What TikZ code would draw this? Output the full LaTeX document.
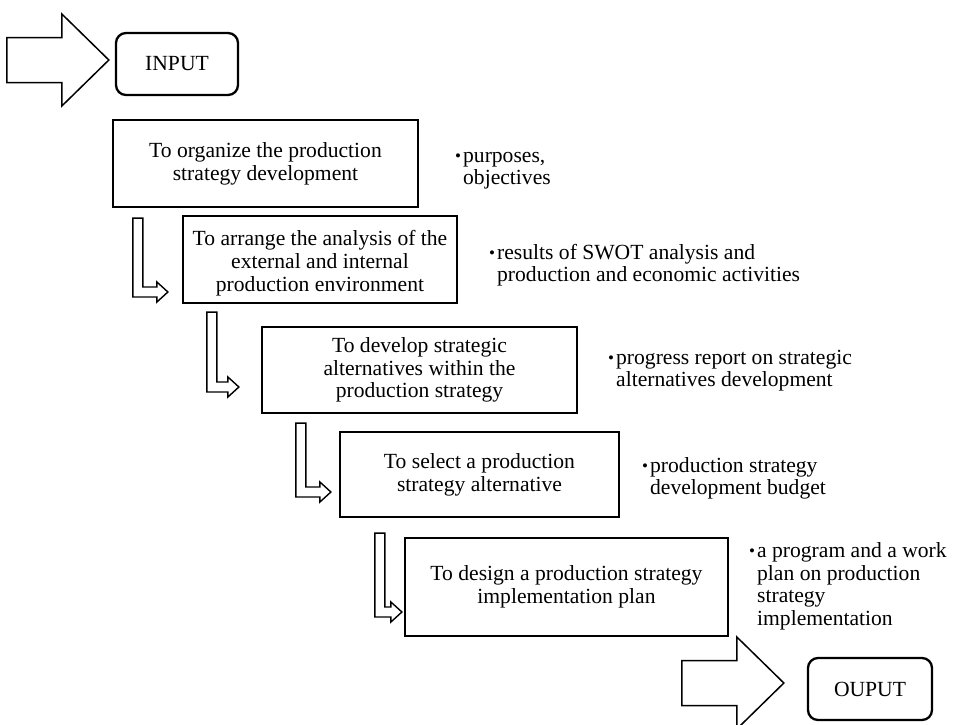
\documentclass[tikz,border=0pt]{standalone}
\usepackage{fontspec}
\setmainfont{Liberation Serif}
\usetikzlibrary{calc}
\newcommand\boxfont{\fontsize{21.6}{22.8}\selectfont}
\newcommand\dotb{\raisebox{0.05ex}{\fontsize{17}{17}\selectfont\textbullet}}
\newcommand\drawLarrow[2]{%
  \draw[hollow] (#1) -- ++(10,0) |- ($(#2)+(-11,-5)$) -- ++(0,-5) -- (#2)
    -- ++(-11,10) -- ++(0,-5) -| (#1) -- cycle;}
\newcommand\drawBigArrow[1]{%
  \draw[hollowbig] ($(#1)+(-102,-22.5)$) -- ++(55,0) -- ++(0,-23.5) -- (#1)
    -- ++(-47,46) -- ++(0,-23.5) -- ++(-55,0) -- cycle;}
\begin{document}
\begin{tikzpicture}[x=1pt,y=-1pt,
  stepbox/.style={draw, line width=2.2pt, align=center, inner sep=0pt, font=\boxfont},
  endbox/.style={draw, line width=2.3pt, rounded corners=10pt, inner sep=0pt, font=\boxfont},
  note/.style={anchor=west, inner sep=0pt, font=\boxfont, align=left},
  hollow/.style={draw, line width=1.4pt, line join=miter},
  hollowbig/.style={draw, line width=1.5pt, line join=miter}]
\useasboundingbox (0,0) rectangle (953,724);

% process boxes
\node[endbox, minimum width=122pt, minimum height=62pt] (in) at (177,64) {INPUT};
\node[stepbox, minimum width=305pt, minimum height=87pt] (b1) at (265.5,163.5)
  {To organize the production\\strategy development};
\node[stepbox, minimum width=274pt, minimum height=87pt] (b2) at (320,259.5)
  {\rule{0pt}{23pt}To arrange the analysis of the\\external and internal\\production environment};
\node[stepbox, minimum width=315pt, minimum height=86pt] (b3) at (419.5,370)
  {To develop strategic\\alternatives within the\\production strategy};
\node[stepbox, minimum width=279pt, minimum height=85pt] (b4) at (479.5,474.5)
  {To select a production\\strategy alternative};
\node[stepbox, minimum width=323pt, minimum height=98pt] (b5) at (566.5,587)
  {To design a production strategy\\implementation plan};
\node[endbox, minimum width=124pt, minimum height=62pt] (out) at (870,689) {OUPUT};

% notes
\node[note] (n1) at (455,169) {\begin{tabular}{@{}l@{\hspace{2pt}}l@{}}\dotb&purposes,\\&objectives\end{tabular}};
\node[note] (n2) at (489,266) {\begin{tabular}{@{}l@{\hspace{2pt}}l@{}}\dotb&results of SWOT analysis and\\&production and economic activities\end{tabular}};
\node[note] (n3) at (608,371) {\begin{tabular}{@{}l@{\hspace{2pt}}l@{}}\dotb&progress report on strategic\\&alternatives development\end{tabular}};
\node[note] (n4) at (642,479) {\begin{tabular}{@{}l@{\hspace{2pt}}l@{}}\dotb&production strategy\\&development budget\end{tabular}};
\node[note] (n5) at (749,587) {\begin{tabular}{@{}l@{\hspace{2pt}}l@{}}\dotb&a program and a work\\&plan on production\\&strategy\\&implementation\end{tabular}};

% big arrows
\coordinate (intip) at ($(in.west)+(-6,-4)$);
\coordinate (outtip) at ($(out.west)+(-23,-6)$);
\drawBigArrow{intip}
\drawBigArrow{outtip}

% L-shaped arrows between steps
\coordinate (l1top) at ($(b1.south west)+(21,10)$);
\coordinate (l1tip) at ($(b2.west)+(-14,32.5)$);
\coordinate (l2top) at ($(b2.south west)+(25,8)$);
\coordinate (l2tip) at ($(b3.west)+(-22,17)$);
\coordinate (l3top) at ($(b3.south west)+(35,9)$);
\coordinate (l3tip) at ($(b4.west)+(-8,17.5)$);
\coordinate (l4top) at ($(b4.south west)+(36,15)$);
\coordinate (l4tip) at ($(b5.west)+(-2,25)$);
\drawLarrow{l1top}{l1tip}
\drawLarrow{l2top}{l2tip}
\drawLarrow{l3top}{l3tip}
\drawLarrow{l4top}{l4tip}
\end{tikzpicture}
\end{document}
